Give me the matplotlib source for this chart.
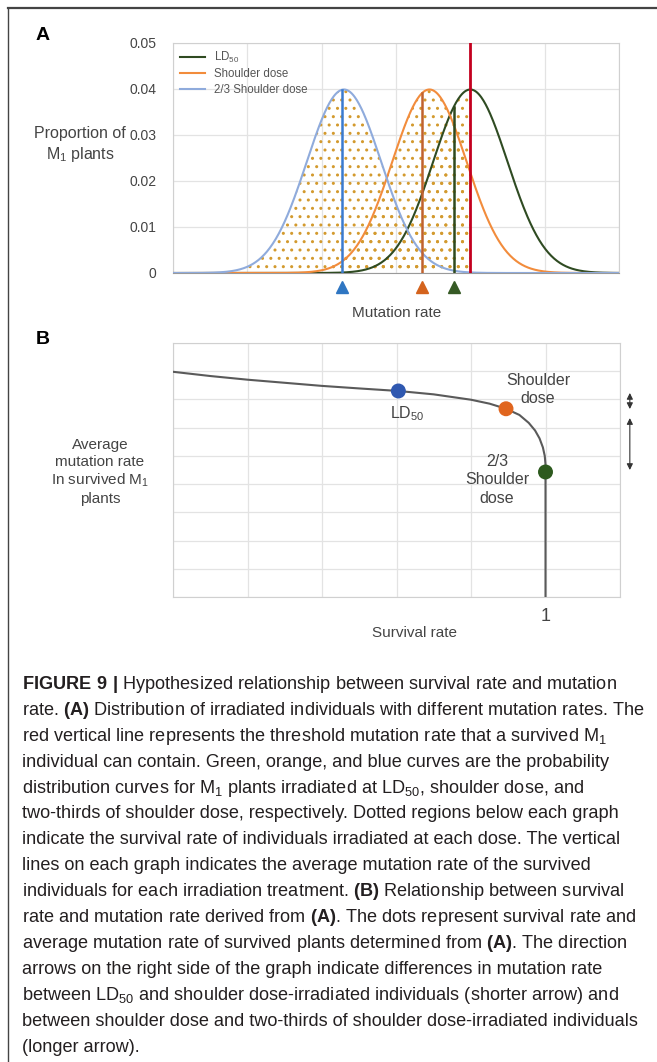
import numpy as np
import matplotlib
matplotlib.use('Agg')
import matplotlib.pyplot as plt

W, H = 657, 1062
plt.rcParams['font.family'] = ['Liberation Sans', 'DejaVu Sans']
plt.rcParams['mathtext.fontset'] = 'custom'
plt.rcParams['mathtext.rm'] = 'Liberation Sans'
plt.rcParams['mathtext.bf'] = 'Liberation Sans:bold'
plt.rcParams['hatch.linewidth'] = 1.0

# panel A: distributions of mutation rate (mean, sd)
dose_names = ['LD$_\\mathregular{50}$', 'Shoulder dose', '2/3 Shoulder dose']
dose_means = [80, 69, 46]
dose_sd = 10
threshold = 80
survivor_means = [75.5, 67, 45.5]
curve_colors = ['#2f4b22', '#f28c3c', '#8fabdc']
line_colors = ['#2e4a1f', '#c0622e', '#3a7bd0']
tri_colors = ['#365a25', '#d4631d', '#2f76c2']
a_yticks = [0, 0.01, 0.02, 0.03, 0.04, 0.05]
a_yticklabels = ['0', '0.01', '0.02', '0.03', '0.04', '0.05']

# panel B: survival rate vs average mutation rate of survivors
surv = [0.0, 0.1, 0.2, 0.3, 0.4, 0.5, 0.605, 0.7, 0.8, 0.85, 0.894, 0.93, 0.955, 0.972, 0.984, 0.993, 0.998, 1.0, 1.0, 1.0]
avg_mut = [7.98, 7.83, 7.70, 7.59, 7.48, 7.39, 7.30, 7.18, 6.99, 6.85, 6.67, 6.45, 6.17, 5.90, 5.62, 5.30, 5.00, 4.70, 4.43, 0.0]
pt_surv = [0.605, 0.894, 1.0]
pt_mut = [7.30, 6.67, 4.43]
pt_colors = ['#2f58b0', '#e0651e', '#2d5a1e']

fig = plt.figure(figsize=(W / 100, H / 100), dpi=100)

# frame lines of the figure box
fig.add_artist(plt.Line2D([8 / W, 1], [1 - 8 / H, 1 - 8 / H], color='#444444', lw=1.6))
fig.add_artist(plt.Line2D([8 / W, 8 / W], [0, 1 - 8 / H], color='#444444', lw=1.0))

# ---------------- panel A
axA = fig.add_axes([173 / W, 1 - 273 / H, 446 / W, 230 / H])
x = np.linspace(0, 120, 600)
for m, cc, name in zip(dose_means, curve_colors, dose_names):
    y = np.exp(-0.5 * ((x - m) / dose_sd) ** 2) / (dose_sd * np.sqrt(2 * np.pi))
    axA.fill_between(x, 0, y, where=x <= threshold, facecolor='none', edgecolor='#d39a2e',
                     hatch='..', lw=0, zorder=1)
    axA.plot(x, y, color=cc, lw=1.5, label=name, zorder=3)

for sm, m, lc, tc in zip(survivor_means, dose_means, line_colors, tri_colors):
    top = np.exp(-0.5 * ((sm - m) / dose_sd) ** 2) / (dose_sd * np.sqrt(2 * np.pi))
    axA.plot([sm, sm], [0, top], color=lc, lw=1.8, zorder=4)
    axA.plot(sm, -0.0031, marker='^', color=tc, ms=8, clip_on=False, zorder=5)

axA.axvline(threshold, color='#c4001f', lw=2, zorder=5)
axA.set_xlim(0, 120)
axA.set_ylim(0, 0.05)
axA.set_xticks(np.arange(0, 121, 20))
axA.set_xticklabels([])
axA.set_yticks(a_yticks)
axA.set_yticklabels(a_yticklabels, fontsize=10, color='#444444')
axA.tick_params(length=0, pad=12)
axA.grid(color='#e3e3e3', lw=0.9)
axA.set_axisbelow(True)
for s in axA.spines.values():
    s.set_color('#d0d0d0')
axA.spines['bottom'].set_color('#9a9a9a')
leg = axA.legend(loc='upper left', frameon=False, fontsize=8.3, handlelength=2.2,
                 borderaxespad=0.2, labelspacing=0.3, handletextpad=0.8)
for t in leg.get_texts():
    t.set_color('#555555')
fig.text(80 / W, 1 - 145 / H, 'Proportion of\nM$_\\mathregular{1}$ plants', ha='center', va='center',
         fontsize=11.5, color='#444444', linespacing=1.25)
fig.text(397 / W, 1 - 313 / H, 'Mutation rate', ha='center', va='center', fontsize=11, color='#444444')
fig.text(36 / W, 1 - 36 / H, 'A', fontsize=14, fontweight='bold', va='center', ha='left')

# ---------------- panel B
axB = fig.add_axes([173 / W, 1 - 597 / H, 447 / W, 254 / H])
axB.plot(surv, avg_mut, color='#5a5a5a', lw=1.5, zorder=3)
axB.scatter(pt_surv, pt_mut, s=95, c=pt_colors, zorder=4, clip_on=False)
axB.set_xlim(0, 1.2)
axB.set_ylim(0, 9)
axB.set_xticks(np.arange(0, 1.21, 0.2))
axB.set_xticklabels(['', '', '', '', '', '1', ''], fontsize=13, color='#444444')
axB.set_yticks(np.arange(0, 10, 1))
axB.set_yticklabels([])
axB.tick_params(length=0, pad=8)
axB.grid(color='#e3e3e3', lw=0.9)
axB.set_axisbelow(True)
for s in axB.spines.values():
    s.set_color('#d0d0d0')
axB.text(0.63, 6.5, 'LD$_\\mathregular{50}$', ha='center', va='center', fontsize=11.5, color='#444444')
axB.text(0.98, 7.35, 'Shoulder\ndose', ha='center', va='center', fontsize=11.5, color='#444444',
         linespacing=1.3)
axB.text(0.87, 4.15, '2/3\nShoulder\ndose', ha='center', va='center', fontsize=11.5, color='#444444',
         linespacing=1.3)
arrow = dict(arrowstyle='<|-|>', color='#333333', lw=0.8, mutation_scale=9, shrinkA=0, shrinkB=0)
axB.annotate('', xy=(1.022, 7.23), xytext=(1.022, 6.66), xycoords=('axes fraction', 'data'),
             textcoords=('axes fraction', 'data'), arrowprops=arrow)
axB.annotate('', xy=(1.022, 6.34), xytext=(1.022, 4.50), xycoords=('axes fraction', 'data'),
             textcoords=('axes fraction', 'data'), arrowprops=arrow)
fig.text(100 / W, 1 - 472 / H, 'Average\nmutation rate\nIn survived M$_\\mathregular{1}$\nplants',
         ha='center', va='center', fontsize=11, color='#444444', linespacing=1.25)
fig.text(415 / W, 1 - 633 / H, 'Survival rate', ha='center', va='center', fontsize=11, color='#444444')
fig.text(36 / W, 1 - 340 / H, 'B', fontsize=14, fontweight='bold', va='center', ha='left')

# ---------------- caption
caption = [
    r'$\mathbf{FIGURE\ 9\ |}$ Hypothesized relationship between survival rate and mutation',
    r'rate. $\mathbf{(A)}$ Distribution of irradiated individuals with different mutation rates. The',
    r'red vertical line represents the threshold mutation rate that a survived M$_\mathregular{1}$',
    r'individual can contain. Green, orange, and blue curves are the probability',
    r'distribution curves for M$_\mathregular{1}$ plants irradiated at LD$_\mathregular{50}$, shoulder dose, and',
    r'two-thirds of shoulder dose, respectively. Dotted regions below each graph',
    r'indicate the survival rate of individuals irradiated at each dose. The vertical',
    r'lines on each graph indicates the average mutation rate of the survived',
    r'individuals for each irradiation treatment. $\mathbf{(B)}$ Relationship between survival',
    r'rate and mutation rate derived from $\mathbf{(A)}$. The dots represent survival rate and',
    r'average mutation rate of survived plants determined from $\mathbf{(A)}$. The direction',
    r'arrows on the right side of the graph indicate differences in mutation rate',
    r'between LD$_\mathregular{50}$ and shoulder dose-irradiated individuals (shorter arrow) and',
    r'between shoulder dose and two-thirds of shoulder dose-irradiated individuals',
    r'(longer arrow).',
]
for i, line in enumerate(caption):
    fig.text(22 / W, 1 - (689 + i * 25.9) / H, line, ha='left', va='baseline', fontsize=13.1,
             color='#231f20')

fig.savefig('out.png', dpi=100)
